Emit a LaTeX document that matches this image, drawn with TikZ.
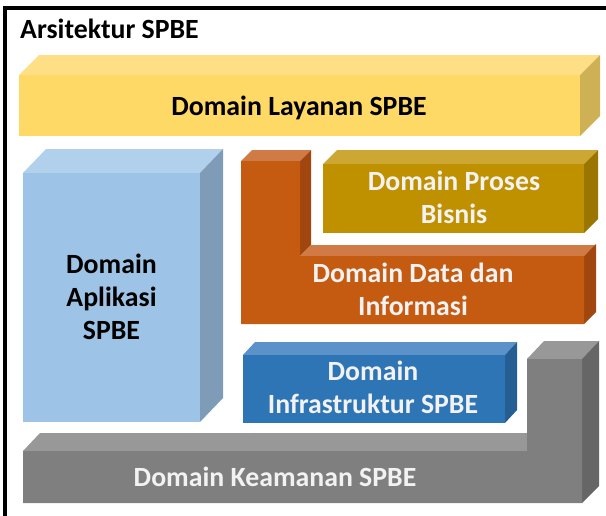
\documentclass[tikz,border=0pt]{standalone}
\usepackage{fontspec}
\setmainfont{Carlito}
\definecolor{ylF}{HTML}{FFD966}\definecolor{ylT}{HTML}{FEDF86}\definecolor{ylS}{HTML}{CFB155}
\definecolor{lbF}{HTML}{9DC3E6}\definecolor{lbT}{HTML}{B1D0EC}\definecolor{lbS}{HTML}{7E9CB8}
\definecolor{orF}{HTML}{C55A11}\definecolor{orT}{HTML}{D07B45}\definecolor{orS}{HTML}{A0460E}
\definecolor{goF}{HTML}{BF9000}\definecolor{goT}{HTML}{CCA733}\definecolor{goS}{HTML}{9A7500}
\definecolor{dbF}{HTML}{2E75B6}\definecolor{dbT}{HTML}{5A92C9}\definecolor{dbS}{HTML}{255E92}
\definecolor{grF}{HTML}{7F7F7F}\definecolor{grT}{HTML}{989898}\definecolor{grS}{HTML}{666666}
\definecolor{offw}{HTML}{F2F2F2}
% x1 y1 x2 y2 dx dy front top side
\newcommand\myslab[9]{%
  \fill[#8] (#1,#2) -- (#1+#5,#2-#6) -- (#3+#5,#2-#6) -- (#3,#2) -- cycle;
  \fill[#9] (#3,#2) -- (#3+#5,#2-#6) -- (#3+#5,#4-#6) -- (#3,#4) -- cycle;
  \fill[#7] (#1,#2) rectangle (#3,#4);
}
\tikzset{
  lbl/.style={font=\bfseries\fontsize{27.8}{33}\selectfont, anchor=base, inner sep=0pt},
  dark/.style={lbl, text=black},
  light/.style={lbl, text=offw},
  frame/.style={line width=4pt, draw=black}
}
\begin{document}
\begin{tikzpicture}[x=1pt,y=-1pt]
\useasboundingbox (0,0) rectangle (606,515);
% frame
\draw[frame] (5,520) -- (5,8) -- (612,8);
\node[dark, anchor=base west] (title) at (20,38) {Arsitektur SPBE};
% Layanan
\myslab{19}{75}{580}{136}{20}{20}{ylF}{ylT}{ylS}
\node[dark] (layanan) at (299,115) {Domain Layanan SPBE};
% Aplikasi
\myslab{23}{173}{200}{422}{23}{24}{lbF}{lbT}{lbS}
\node[dark] (apl1) at (111.5,273) {Domain};
\node[dark] (apl2) at (111.5,306) {Aplikasi};
\node[dark] (apl3) at (111.5,339) {SPBE};
% Proses Bisnis
\myslab{323}{164}{584}{233}{14}{14}{goF}{goT}{goS}
\node[light] (pro1) at (454,190) {Domain Proses};
\node[light] (pro2) at (454,223) {Bisnis};
% Data dan Informasi (L shape)
\fill[orT] (241,161) -- (252,150) -- (311,150) -- (300,161) -- cycle;
\fill[orS] (300,161) -- (311,150) -- (311,245) -- (300,256) -- cycle;
\fill[orT] (300,256) -- (311,245) -- (596,245) -- (584,256) -- cycle;
\fill[orS] (584,256) -- (596,244) -- (596,312) -- (584,324) -- cycle;
\fill[orF] (241,161) -- (300,161) -- (300,256) -- (584,256) -- (584,324) -- (241,324) -- cycle;
\node[light] (dat1) at (413,282) {Domain Data dan};
\node[light] (dat2) at (413,315) {Informasi};
% Infrastruktur
\myslab{243}{355}{505}{423}{12}{13}{dbF}{dbT}{dbS}
\node[light] (inf1) at (373,380) {Domain};
\node[light] (inf2) at (373,413) {Infrastruktur SPBE};
% Keamanan (L shape)
\fill[grT] (23,451) -- (40,433) -- (544,433) -- (527,451) -- cycle;
\fill[grT] (527,359) -- (544,341) -- (599,341) -- (582,359) -- cycle;
\fill[grS] (582,359) -- (599,341) -- (599,486) -- (582,503) -- cycle;
\fill[grF] (23,451) -- (527,451) -- (527,359) -- (582,359) -- (582,503) -- (23,503) -- cycle;
\node[light] (kea) at (275,486) {Domain Keamanan SPBE};
\end{tikzpicture}
\end{document}
